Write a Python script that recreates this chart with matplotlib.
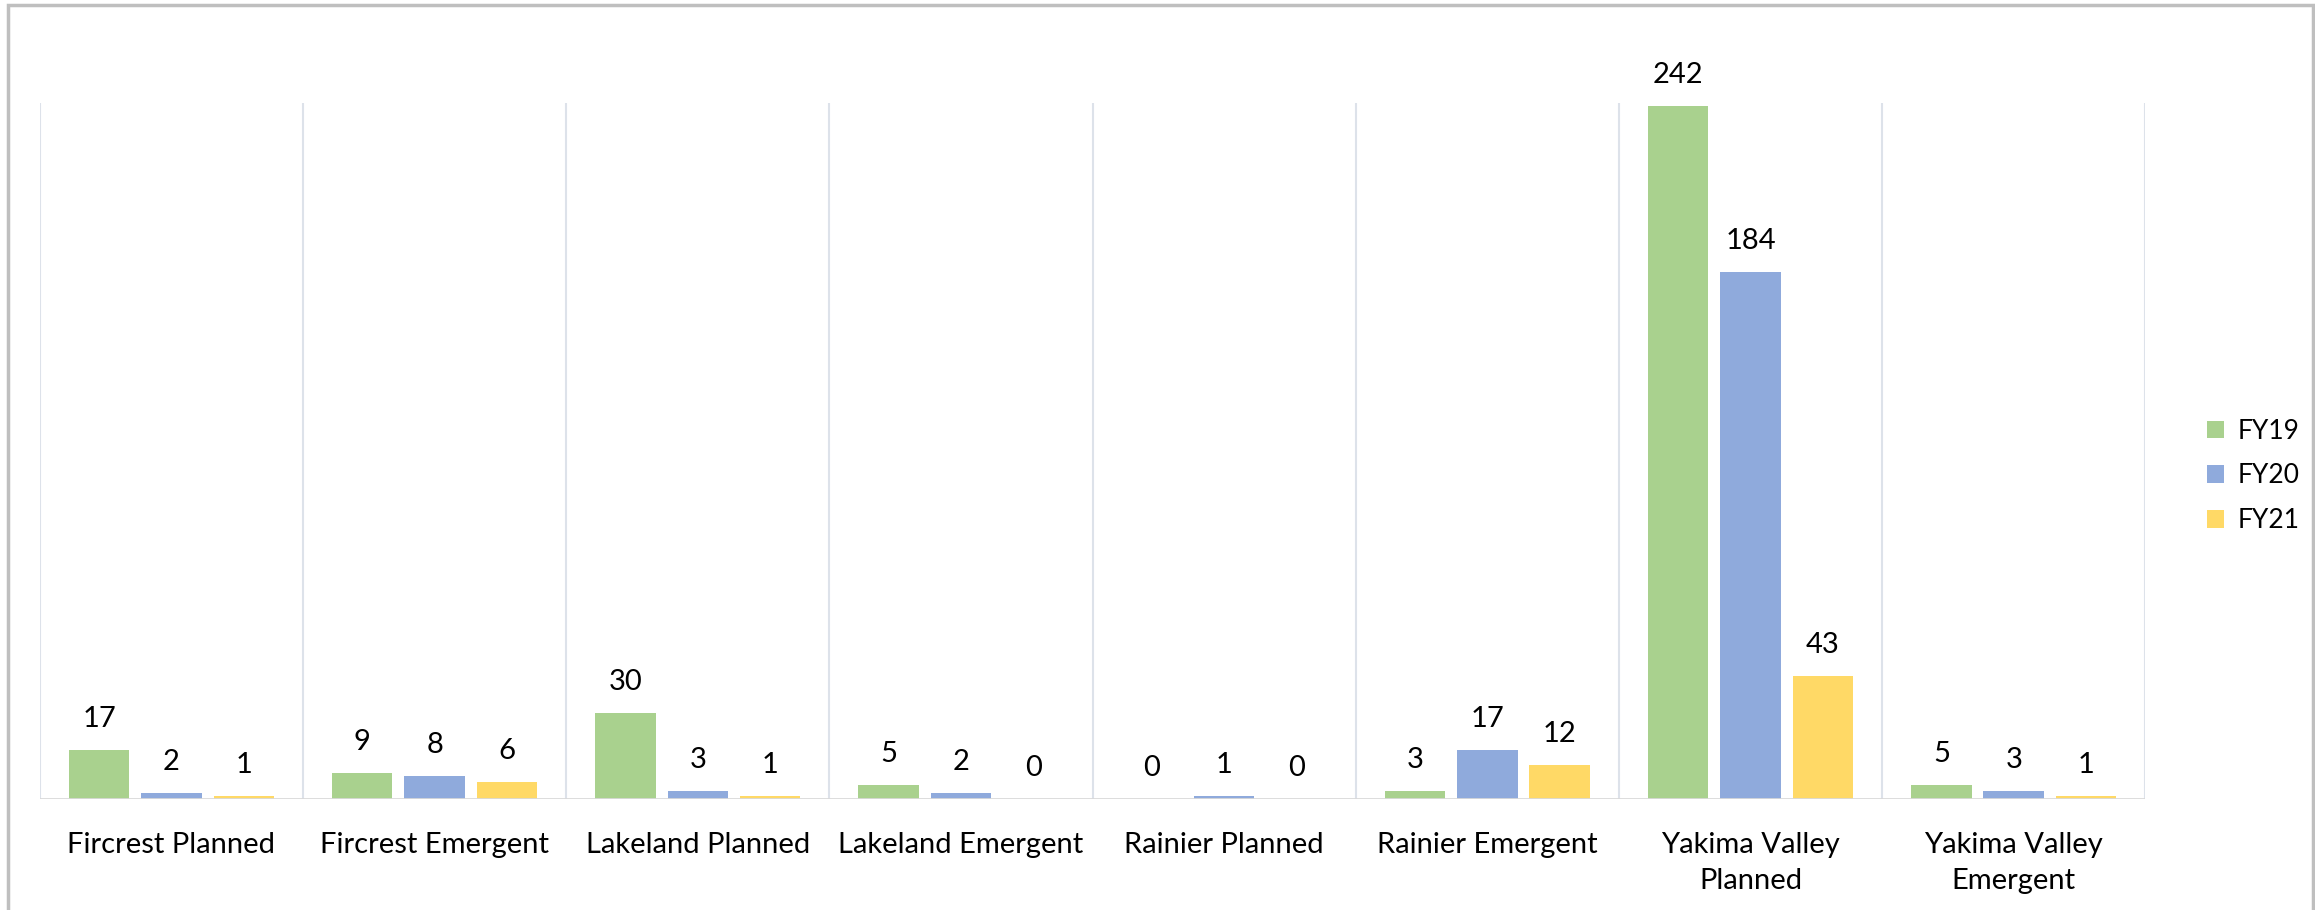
import matplotlib.pyplot as plt
import numpy as np
from matplotlib.patches import Rectangle

plt.rcParams['font.family'] = ['Lato', 'DejaVu Sans']

# data
categories = ['Fircrest Planned', 'Fircrest Emergent', 'Lakeland Planned', 'Lakeland Emergent',
              'Rainier Planned', 'Rainier Emergent', 'Yakima Valley\nPlanned', 'Yakima Valley\nEmergent']
fy19 = [17, 9, 30, 5, 0, 3, 242, 5]
fy20 = [2, 8, 3, 2, 1, 17, 184, 3]
fy21 = [1, 6, 1, 0, 0, 12, 43, 1]
series_names = ['FY19', 'FY20', 'FY21']
colors = ['#A9D18E', '#8FAADC', '#FFD966']

fig = plt.figure(figsize=(23.15, 9.1), dpi=100)
ax = fig.add_axes([0.0172, 0.1218, 0.9095, 0.7646])

x = np.arange(len(categories))
w = 0.23
step = 0.275
for k, (vals, name, c) in enumerate(zip([fy19, fy20, fy21], series_names, colors)):
    pos = x + (k - 1) * step
    ax.bar(pos, vals, width=w, color=c, label=name, zorder=3)
    for p, v in zip(pos, vals):
        ax.annotate(str(v), (p, v), xytext=(0, 13), textcoords='offset points',
                    ha='center', va='bottom', fontsize=21, color='black')

# category separator lines
for b in np.arange(-0.5, len(categories), 1.0):
    ax.axvline(b, color='#DDE2EA', lw=1.5, zorder=1)
ax.axhline(0, color='#D9D9D9', lw=2, zorder=4)

ax.set_xlim(-0.5, len(categories) - 0.5)
ax.set_ylim(0, 243)
ax.set_xticks(x)
ax.set_xticklabels(categories, fontsize=21, linespacing=1.45)
ax.tick_params(axis='x', length=0, pad=24)
ax.set_yticks([])
for s in ax.spines.values():
    s.set_visible(False)

ax.legend(loc='center left', bbox_to_anchor=(0.943, 0.477), bbox_transform=fig.transFigure,
          frameon=False, fontsize=19, handlelength=0.65, handleheight=0.65,
          handletextpad=0.5, labelspacing=0.75)

fig.patches.append(Rectangle((0.0035, -0.01), 0.9955, 1.0045, transform=fig.transFigure,
                             fill=False, edgecolor='#BFBFBF', lw=2.5))

fig.savefig('out.png', dpi=100, facecolor='white')
